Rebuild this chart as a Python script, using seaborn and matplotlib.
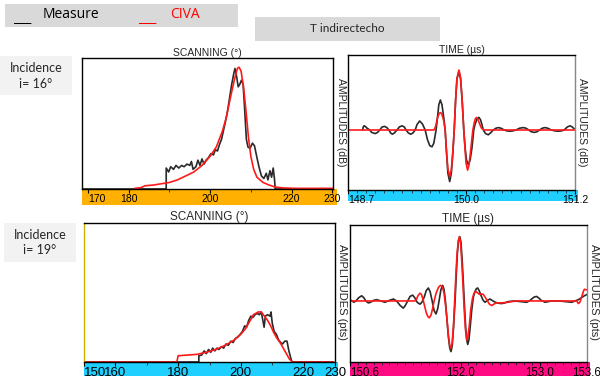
import numpy as np
import pandas as pd
import seaborn as sns
import matplotlib.pyplot as plt
from matplotlib.patches import Rectangle

# ---------------------------------------------------------------- data
# scanning, incidence 16 deg (normalised amplitude)
scan16_meas_x = [168.5, 189.2, 189.2, 189.8, 190.3, 191.0, 191.6, 192.3, 193.0, 193.6, 194.3, 195.0,
                 195.4, 195.8, 196.5, 197.0, 197.5, 198.0, 198.5, 199.0, 199.6, 200.2, 200.8, 201.3,
                 201.8, 202.3, 202.8, 203.3, 203.8, 204.3, 204.8, 205.3, 205.8, 206.1, 206.5, 206.9,
                 207.3, 207.7, 208.1, 208.5, 208.9, 209.3, 209.8, 210.4, 210.9, 211.5, 212.0, 212.6,
                 213.2, 213.8, 214.2, 214.7, 215.1, 215.5, 215.8, 216.0, 230.2]
scan16_meas_y = [0.0, 0.0, 0.16, 0.13, 0.17, 0.15, 0.18, 0.16, 0.18, 0.17, 0.19, 0.18,
                 0.21, 0.15, 0.17, 0.22, 0.18, 0.23, 0.19, 0.22, 0.24, 0.27, 0.26, 0.30,
                 0.29, 0.34, 0.38, 0.45, 0.52, 0.60, 0.70, 0.80, 0.88, 0.92, 0.86, 0.78,
                 0.80, 0.83, 0.80, 0.60, 0.38, 0.32, 0.31, 0.35, 0.33, 0.24, 0.17, 0.10,
                 0.08, 0.12, 0.07, 0.14, 0.09, 0.16, 0.08, 0.0, 0.0]
scan16_civa_x = [181.5, 183.0, 184.0, 186.0, 188.0, 190.0, 192.0, 194.0, 196.0, 198.0, 200.0, 201.5,
                 203.0, 204.0, 205.0, 206.0, 206.7, 207.1, 207.6, 208.2, 208.8, 209.4, 210.0, 210.7,
                 211.5, 213.0, 214.5, 216.0, 218.0, 221.0, 230.2]
scan16_civa_y = [0.005, 0.01, 0.025, 0.03, 0.04, 0.05, 0.07, 0.10, 0.13, 0.18, 0.25, 0.32,
                 0.44, 0.55, 0.70, 0.84, 0.92, 0.93, 0.90, 0.78, 0.60, 0.40, 0.25, 0.15,
                 0.09, 0.05, 0.03, 0.015, 0.008, 0.005, 0.005]

# scanning, incidence 19 deg
scan19_meas_x = [150.0, 186.6, 186.6, 187.5, 188.3, 189.0, 189.7, 190.4, 191.0, 191.7, 192.4, 193.0,
                 193.8, 194.5, 195.3, 196.0, 196.8, 197.5, 198.3, 199.0, 199.8, 200.5, 201.2, 201.8,
                 202.5, 203.2, 203.8, 204.5, 205.2, 205.9, 206.5, 207.0, 207.4, 207.8, 208.5, 209.3,
                 209.6, 210.0, 210.6, 211.3, 212.0, 212.7, 213.3, 214.0, 214.7, 215.3, 216.0, 216.3, 229.5]
scan19_meas_y = [0.0, 0.0, 0.045, 0.05, 0.08, 0.06, 0.09, 0.07, 0.10, 0.08, 0.10, 0.09,
                 0.11, 0.10, 0.13, 0.12, 0.15, 0.14, 0.17, 0.18, 0.20, 0.22, 0.26, 0.25,
                 0.30, 0.33, 0.32, 0.34, 0.35, 0.34, 0.36, 0.30, 0.25, 0.33, 0.34, 0.33,
                 0.36, 0.28, 0.22, 0.20, 0.16, 0.14, 0.13, 0.15, 0.15, 0.08, 0.02, 0.0, 0.0]
scan19_civa_x = [150.0, 179.6, 180.0, 183.0, 186.0, 189.0, 192.0, 195.0, 198.0, 200.0, 201.5, 203.0,
                 204.0, 205.5, 206.5, 207.5, 208.5, 209.5, 210.5, 211.5, 212.5, 213.5, 214.5, 215.5,
                 216.5, 229.5]
scan19_civa_y = [0.0, 0.0, 0.045, 0.05, 0.055, 0.07, 0.09, 0.12, 0.16, 0.20, 0.24, 0.30,
                 0.34, 0.36, 0.36, 0.33, 0.30, 0.26, 0.21, 0.17, 0.14, 0.10, 0.06, 0.02,
                 0.0, 0.0]

# time signal, incidence 16 deg
time16_meas_t = [148.86, 148.868, 148.876, 148.89, 148.91, 148.94, 148.96, 149.0, 149.025, 149.05,
                 149.075, 149.104, 149.128, 149.15, 149.17, 149.188, 149.21, 149.24, 149.265, 149.295,
                 149.32, 149.34, 149.365, 149.39, 149.415, 149.44, 149.46, 149.489, 149.52, 149.55,
                 149.575, 149.6, 149.625, 149.645, 149.67, 149.685, 149.7, 149.717, 149.735, 149.755,
                 149.77, 149.785, 149.8, 149.82, 149.838, 149.855, 149.87, 149.885, 149.9, 149.922,
                 149.94, 149.958, 149.975, 149.99, 150.005, 150.025, 150.045, 150.065, 150.085, 150.1,
                 150.12, 150.142, 150.16, 150.175, 150.19, 150.215, 150.245, 150.275, 150.3, 150.33,
                 150.355, 150.385, 150.42, 150.45, 150.484, 150.515, 150.55, 150.59, 150.63, 150.66,
                 150.69, 150.72, 150.752, 150.78, 150.81, 150.84, 150.869, 150.9, 150.94, 150.98,
                 151.016, 151.05, 151.08, 151.115, 151.145, 151.17, 151.19]
time16_meas_a = [0.0, 0.05, 0.07, 0.06, 0.03, 0.0, -0.04, -0.06, -0.04, 0.0,
                 0.05, 0.06, 0.04, 0.0, -0.05, -0.07, -0.05, 0.0, 0.05, 0.07,
                 0.05, 0.0, -0.05, -0.07, -0.05, 0.0, 0.09, 0.15, 0.10, 0.0,
                 -0.16, -0.26, -0.28, -0.22, 0.0, 0.20, 0.42, 0.50, 0.42, 0.20,
                 0.0, -0.38, -0.72, -0.86, -0.72, -0.38, 0.0, 0.50, 0.85, 0.98,
                 0.85, 0.48, 0.0, -0.30, -0.50, -0.58, -0.50, -0.30, 0.0, 0.10,
                 0.18, 0.21, 0.17, 0.09, 0.0, -0.06, -0.08, -0.04, 0.0, 0.03,
                 0.04, 0.03, 0.0, -0.015, -0.02, -0.015, 0.0, 0.03, 0.04, 0.03,
                 0.0, -0.03, -0.04, -0.03, 0.0, 0.03, 0.04, 0.03, 0.0, -0.015,
                 -0.02, -0.015, 0.0, 0.05, 0.07, 0.05, 0.02]
time16_civa_t = [148.7, 149.647, 149.665, 149.685, 149.705, 149.72, 149.735, 149.755, 149.77, 149.785,
                 149.8, 149.82, 149.838, 149.855, 149.87, 149.885, 149.9, 149.922, 149.94, 149.958,
                 149.975, 149.988, 150.0, 150.017, 150.033, 150.05, 150.075, 150.09, 150.103, 150.117,
                 150.13, 150.15, 150.17, 150.2, 151.2]
time16_civa_a = [0.0, 0.0, 0.06, 0.20, 0.28, 0.29, 0.26, 0.15, 0.0, -0.35,
                 -0.65, -0.78, -0.66, -0.35, 0.0, 0.50, 0.86, 1.0, 0.87, 0.48,
                 0.0, -0.30, -0.55, -0.67, -0.58, -0.35, 0.0, 0.12, 0.19, 0.21,
                 0.18, 0.10, 0.03, 0.0, 0.0]

# time signal, incidence 19 deg
time19_meas_t = [150.6, 150.625, 150.65, 150.675, 150.71, 150.748, 150.775, 150.8, 150.832, 150.86,
                 150.9, 150.938, 150.99, 151.043, 151.1, 151.149, 151.19, 151.235, 151.275, 151.3,
                 151.33, 151.36, 151.393, 151.42, 151.45, 151.486, 151.51, 151.54, 151.565, 151.592,
                 151.615, 151.64, 151.665, 151.689, 151.71, 151.73, 151.75, 151.773, 151.79, 151.808,
                 151.825, 151.845, 151.862, 151.878, 151.893, 151.91, 151.93, 151.945, 151.96, 151.975,
                 151.99, 152.005, 152.02, 152.035, 152.05, 152.065, 152.078, 152.09, 152.105, 152.12,
                 152.14, 152.16, 152.18, 152.2, 152.216, 152.235, 152.26, 152.285, 152.309, 152.34,
                 152.372, 152.41, 152.44, 152.48, 152.52, 152.56, 152.6, 152.68, 152.76, 152.836,
                 152.87, 152.9, 152.93, 152.963, 152.995, 153.02, 153.069, 153.15, 153.25, 153.33,
                 153.406, 153.45, 153.49, 153.53, 153.567, 153.6]
time19_meas_a = [0.02, 0.0, -0.02, 0.0, 0.05, 0.08, 0.05, 0.0, -0.03, -0.02,
                 0.01, 0.02, 0.0, -0.02, 0.01, 0.03, 0.0, -0.07, -0.11, -0.07,
                 0.0, 0.07, 0.09, 0.05, -0.02, -0.05, -0.02, 0.06, 0.16, 0.20,
                 0.14, 0.0, -0.15, -0.20, -0.12, 0.02, 0.17, 0.24, 0.18, 0.0,
                 -0.25, -0.55, -0.72, -0.78, -0.70, -0.42, 0.0, 0.40, 0.75, 0.94,
                 0.99, 0.90, 0.62, 0.28, -0.10, -0.42, -0.60, -0.67, -0.60, -0.42,
                 -0.15, 0.05, 0.14, 0.19, 0.20, 0.16, 0.08, 0.01, -0.02, 0.01,
                 0.03, 0.0, -0.02, -0.035, -0.04, -0.03, -0.01, 0.0, -0.01, -0.02,
                 0.0, 0.03, 0.06, 0.07, 0.04, 0.01, -0.02, 0.0, 0.0, -0.01,
                 -0.02, 0.0, 0.02, 0.05, 0.08, 0.10]
time19_civa_t = [150.6, 151.423, 151.44, 151.46, 151.486, 151.505, 151.525, 151.545, 151.565, 151.585,
                 151.604, 151.625, 151.645, 151.665, 151.69, 151.72, 151.745, 151.77, 151.79, 151.808,
                 151.825, 151.845, 151.862, 151.878, 151.893, 151.91, 151.925, 151.94, 151.955, 151.97,
                 151.984, 152.0, 152.015, 152.03, 152.045, 152.06, 152.077, 152.092, 152.11, 152.13,
                 152.15, 152.17, 152.191, 152.21, 152.24, 152.265, 152.288, 152.315, 152.34, 152.365,
                 152.394, 152.42, 152.45, 152.52, 152.6, 152.7, 153.47, 153.49, 153.51, 153.535,
                 153.555, 153.567, 153.6]
time19_civa_a = [0.0, 0.0, 0.02, 0.08, 0.12, 0.10, 0.02, -0.08, -0.18, -0.24,
                 -0.26, -0.22, -0.12, 0.0, 0.12, 0.21, 0.24, 0.22, 0.12, -0.05,
                 -0.25, -0.52, -0.68, -0.73, -0.65, -0.38, 0.0, 0.40, 0.72, 0.92,
                 0.99, 0.90, 0.60, 0.25, -0.12, -0.42, -0.60, -0.55, -0.38, -0.12,
                 0.04, 0.12, 0.15, 0.13, 0.10, 0.11, 0.10, 0.05, 0.0, -0.05,
                 -0.07, -0.05, -0.03, -0.03, -0.02, 0.0, 0.0, -0.04, -0.02, 0.07,
                 0.15, 0.18, 0.17]

scan16_ticks = [170, 180, 200, 220, 230]
scan19_ticks = [150, 160, 180, 200, 220, 230]
time16_ticks = [148.7, 150.0, 151.2]
time19_ticks = [150.6, 152.0, 153.0, 153.6]

# ---------------------------------------------------------------- layout helpers
W, H = 600, 376
sns.set_theme(style="white")
plt.rcParams['font.family'] = ['Liberation Sans', 'DejaVu Sans']

fig = plt.figure(figsize=(6, 3.76), dpi=100)


def rect(x0, y0, x1, y1):
    return [x0 / W, 1 - y1 / H, (x1 - x0) / W, (y1 - y0) / H]


def box(x0, y0, x1, y1, color):
    fig.add_artist(Rectangle((x0 / W, 1 - y1 / H), (x1 - x0) / W, (y1 - y0) / H,
                             transform=fig.transFigure, color=color, lw=0))


def ftext(x, y, s, **kw):
    fig.text(x / W, 1 - y / H, s, **kw)


def panel(pos, band_pos, band_color, meas_x, meas_y, civa_x, civa_y, xlim, ylim, ticks,
          fs, minor=None, title=""):
    band = fig.add_axes(rect(*band_pos))
    band.set_facecolor(band_color)
    band.set_xticks([])
    band.set_yticks([])
    for s in band.spines.values():
        s.set_visible(False)

    ax = fig.add_axes(rect(*pos))
    ax.set_facecolor("white")
    sns.lineplot(x=meas_x, y=meas_y, ax=ax, color="#2a2a2a", lw=1.2, estimator=None, sort=False)
    sns.lineplot(x=civa_x, y=civa_y, ax=ax, color="#ff1a1a", lw=1.2, estimator=None, sort=False)
    ax.set_xlim(*xlim)
    ax.set_ylim(*ylim)
    ax.set_xticks(ticks)
    ax.set_xticklabels([str(t) for t in ticks], fontsize=fs)
    ax.get_xticklabels()[0].set_ha("left")
    if minor is not None:
        ax.set_xticks(minor, minor=True)
    ax.tick_params(axis="x", which="major", direction="out", length=3, width=0.8,
                   pad=0.5, bottom=True, colors="black")
    ax.tick_params(axis="x", which="minor", direction="out", length=2, width=0.6, bottom=True)
    ax.set_yticks([])
    ax.set_xlabel("")
    ax.set_ylabel("")
    for s in ax.spines.values():
        s.set_color("black")
        s.set_linewidth(1.0)
    ax.set_title(title, fontsize=7.5, pad=1.5)
    return ax


# ---------------------------------------------------------------- header boxes
box(5, 4, 238, 27, "#d9d9d9")
ftext(13, 18, "___", fontsize=10, color="black", va="center", family=["Open Sans", "DejaVu Sans"])
ftext(43, 15, "Measure", fontsize=10, color="black", va="center", family=["Open Sans", "DejaVu Sans"])
ftext(138, 18, "___", fontsize=10, color="red", va="center", family=["Open Sans", "DejaVu Sans"])
ftext(170, 15, "CIVA", fontsize=10, color="red", va="center", family=["Open Sans", "DejaVu Sans"])

box(255, 17, 440, 41, "#d9d9d9")
ftext(347, 29, "T indirectecho", fontsize=8.5, ha="center", va="center", family=["Lato", "DejaVu Sans"])

box(0, 56, 72, 95, "#f2f2f2")
ftext(36, 68, "Incidence", fontsize=9, ha="center", va="center", family=["Lato", "DejaVu Sans"])
ftext(36, 84, "i= 16°", fontsize=9, ha="center", va="center", family=["Lato", "DejaVu Sans"])

box(4, 223, 76, 262, "#f2f2f2")
ftext(40, 235, "Incidence", fontsize=9, ha="center", va="center", family=["Lato", "DejaVu Sans"])
ftext(40, 250, "i= 19°", fontsize=9, ha="center", va="center", family=["Lato", "DejaVu Sans"])

# ---------------------------------------------------------------- panels
panel((82, 58, 333, 189), (82, 189, 337, 205), "#ffb000",
      scan16_meas_x, scan16_meas_y, scan16_civa_x, scan16_civa_y,
      (168.5, 230.2), (0, 1), scan16_ticks, 7.5,
      minor=[190, 210], title="SCANNING (°)")

ax = panel((348, 55, 575, 190), (348, 190, 578, 201), "#1fcfff",
           time16_meas_t, time16_meas_a, time16_civa_t, time16_civa_a,
           (148.7, 151.2), (-1.0, 1.25), time16_ticks, 7.5,
           minor=np.arange(148.8, 151.2, 0.1), title="TIME (µs)")
ax.spines["right"].set_color("#888888")

ax = panel((84, 223, 335, 362), (84, 362, 338, 376), "#1fcfff",
           scan19_meas_x, scan19_meas_y, scan19_civa_x, scan19_civa_y,
           (150.0, 229.5), (0, 1), scan19_ticks, 9.5,
           minor=[170, 190, 210], title="SCANNING (°)")
ax.spines["left"].set_color("#c8b400")
ax.title.set_fontsize(8.5)

ax = panel((350, 225, 587, 362), (350, 362, 590, 376), "#ff0a82",
           time19_meas_t, time19_meas_a, time19_civa_t, time19_civa_a,
           (150.6, 153.6), (-0.94, 1.17), time19_ticks, 8.3,
           minor=np.arange(150.7, 153.6, 0.1), title="TIME (µs)")
ax.title.set_fontsize(8.5)
ax.spines["right"].set_color("#888888")

# side labels
ftext(341, 122, "AMPLITUDES (dB)", fontsize=7.5, rotation=270, ha="center", va="center")
ftext(582, 122, "AMPLITUDES (dB)", fontsize=7.5, rotation=270, ha="center", va="center")
ftext(342, 292, "AMPLITUDES (pts)", fontsize=8, rotation=270, ha="center", va="center")
ftext(594, 292, "AMPLITUDES (pts)", fontsize=8, rotation=270, ha="center", va="center")

fig.savefig("out.png", dpi=100)
